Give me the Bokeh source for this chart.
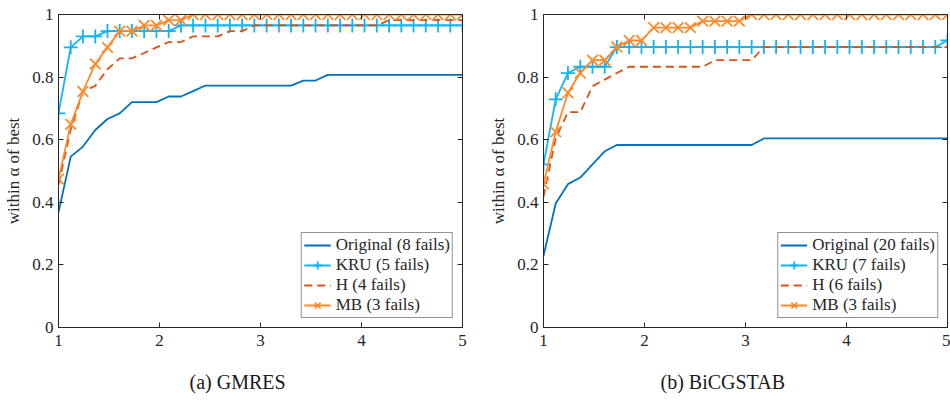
from bokeh.plotting import figure
from bokeh.models import Range1d, FixedTicker, LinearAxis, Legend, LegendItem, Title
from bokeh.layouts import row
from bokeh.embed import file_html
from bokeh.resources import INLINE

# ---------------- data ----------------
alpha = [1.000, 1.121, 1.242, 1.364, 1.485, 1.606, 1.727, 1.848, 1.970, 2.091,
         2.212, 2.333, 2.455, 2.576, 2.697, 2.818, 2.939, 3.061, 3.182, 3.303,
         3.424, 3.545, 3.667, 3.788, 3.909, 4.030, 4.152, 4.273, 4.394, 4.515,
         4.636, 4.758, 4.879, 5.000]

xticks = [1, 2, 3, 4, 5]
xtick_labels = ["1", "2", "3", "4", "5"]
yticks = [0, 0.2, 0.4, 0.6, 0.8, 1]
ytick_labels = ["0", "0.2", "0.4", "0.6", "0.8", "1"]

# (a) GMRES
gmres_original = [0.368, 0.546, 0.578, 0.631, 0.666, 0.684, 0.720, 0.720, 0.720, 0.738,
                  0.738, 0.755, 0.773, 0.773, 0.773, 0.773, 0.773, 0.773, 0.773, 0.773,
                  0.789, 0.789, 0.807, 0.807, 0.807, 0.807, 0.807, 0.807, 0.807, 0.807,
                  0.807, 0.807, 0.807, 0.807]
gmres_kru = [0.684, 0.895, 0.930, 0.930, 0.947, 0.947, 0.947, 0.947, 0.947, 0.947,
             0.965, 0.965, 0.965, 0.965, 0.965, 0.965, 0.965, 0.965, 0.965, 0.965,
             0.965, 0.965, 0.965, 0.965, 0.965, 0.965, 0.965, 0.965, 0.965, 0.965,
             0.965, 0.965, 0.965, 0.965]
gmres_h = [0.456, 0.632, 0.754, 0.772, 0.825, 0.860, 0.860, 0.877, 0.895, 0.912,
           0.912, 0.930, 0.930, 0.930, 0.947, 0.947, 0.965, 0.965, 0.965, 0.965,
           0.965, 0.965, 0.965, 0.965, 0.965, 0.965, 0.965, 0.982, 0.982, 0.982,
           0.982, 0.982, 0.982, 0.982]
gmres_mb = [0.474, 0.649, 0.754, 0.842, 0.895, 0.947, 0.947, 0.965, 0.965, 0.982,
            0.982, 1.000, 1.000, 1.000, 1.000, 1.000, 1.000, 1.000, 1.000, 1.000,
            1.000, 1.000, 1.000, 1.000, 1.000, 1.000, 1.000, 1.000, 1.000, 1.000,
            1.000, 1.000, 1.000, 1.000]
gmres_labels = ["Original (8 fails)", "KRU (5 fails)", "H (4 fails)", "MB (3 fails)"]

# (b) BiCGSTAB
bicg_original = [0.229, 0.396, 0.458, 0.479, 0.521, 0.563, 0.583, 0.583, 0.583, 0.583,
                 0.583, 0.583, 0.583, 0.583, 0.583, 0.583, 0.583, 0.583, 0.604, 0.604,
                 0.604, 0.604, 0.604, 0.604, 0.604, 0.604, 0.604, 0.604, 0.604, 0.604,
                 0.604, 0.604, 0.604, 0.604]
bicg_kru = [0.521, 0.729, 0.813, 0.833, 0.833, 0.833, 0.896, 0.896, 0.896, 0.896,
            0.896, 0.896, 0.896, 0.896, 0.896, 0.896, 0.896, 0.896, 0.896, 0.896,
            0.896, 0.896, 0.896, 0.896, 0.896, 0.896, 0.896, 0.896, 0.896, 0.896,
            0.896, 0.896, 0.896, 0.917]
bicg_h = [0.417, 0.604, 0.688, 0.688, 0.771, 0.792, 0.813, 0.833, 0.833, 0.833,
          0.833, 0.833, 0.833, 0.833, 0.854, 0.854, 0.854, 0.854, 0.896, 0.896,
          0.896, 0.896, 0.896, 0.896, 0.896, 0.896, 0.896, 0.896, 0.896, 0.896,
          0.896, 0.896, 0.896, 0.896]
bicg_mb = [0.458, 0.625, 0.750, 0.813, 0.854, 0.854, 0.896, 0.917, 0.917, 0.958,
           0.958, 0.958, 0.958, 0.979, 0.979, 0.979, 0.979, 1.000, 1.000, 1.000,
           1.000, 1.000, 1.000, 1.000, 1.000, 1.000, 1.000, 1.000, 1.000, 1.000,
           1.000, 1.000, 1.000, 1.000]
bicg_labels = ["Original (20 fails)", "KRU (7 fails)", "H (6 fails)", "MB (3 fails)"]

# ---------------- style ----------------
FONT = "Liberation Serif"
AX = "#262626"
C_ORIG = "#0072BD"
C_KRU = "#12B4F5"
C_H = "#D95319"
C_MB = "#FF8A2A"
LW = 1.8


def style_axis(ax, ticks, labels, show_labels=True, standoff=5):
    ax.ticker = FixedTicker(ticks=ticks)
    ax.major_label_overrides = {t: (l if show_labels else "") for t, l in zip(ticks, labels)}
    ax.minor_tick_line_color = None
    ax.major_tick_in = 5
    ax.major_tick_out = 0
    ax.major_tick_line_color = AX
    ax.axis_line_color = AX
    ax.axis_line_width = 1
    ax.major_label_text_font = FONT
    ax.major_label_text_font_size = "17px"
    ax.major_label_text_color = AX
    ax.major_label_standoff = standoff if show_labels else 0


def panel(orig, kru, h, mb, labels, caption, cap_offset, right_border):
    p = figure(frame_width=404, frame_height=313,
               x_range=Range1d(1, 5), y_range=Range1d(0, 1),
               output_backend="svg", toolbar_location=None,
               min_border_left=58, min_border_right=right_border,
               min_border_top=14, min_border_bottom=72,
               background_fill_color="white", border_fill_color="white")
    p.outline_line_color = AX
    p.outline_line_width = 1
    p.xgrid.visible = False
    p.ygrid.visible = False

    style_axis(p.xaxis[0], xticks, xtick_labels, standoff=7)
    style_axis(p.yaxis[0], yticks, ytick_labels, standoff=5)
    p.yaxis[0].axis_label = "within α of best"
    p.yaxis[0].axis_label_text_font = FONT
    p.yaxis[0].axis_label_text_font_style = "normal"
    p.yaxis[0].axis_label_text_font_size = "17px"
    p.yaxis[0].axis_label_text_color = AX
    p.yaxis[0].axis_label_standoff = 6

    top = LinearAxis()
    style_axis(top, xticks, xtick_labels, show_labels=False)
    p.add_layout(top, "above")
    right = LinearAxis()
    style_axis(right, yticks, ytick_labels, show_labels=False)
    p.add_layout(right, "right")

    r0 = p.line(alpha, orig, line_color=C_ORIG, line_width=LW)
    r1 = p.line(alpha, kru, line_color=C_KRU, line_width=LW)
    s1 = p.scatter(alpha, kru, marker="cross", size=14, line_color=C_KRU, line_width=LW)
    r2 = p.line(alpha, h, line_color=C_H, line_width=LW, line_dash="8 5")
    r3 = p.line(alpha, mb, line_color=C_MB, line_width=LW)
    s3 = p.scatter(alpha, mb, marker="x", size=15, line_color=C_MB, line_width=LW)

    legend = Legend(items=[LegendItem(label=labels[0], renderers=[r0]),
                           LegendItem(label=labels[1], renderers=[r1, s1]),
                           LegendItem(label=labels[2], renderers=[r2]),
                           LegendItem(label=labels[3], renderers=[r3, s3])],
                    location="bottom_right", margin=9, padding=2, spacing=0,
                    glyph_width=27, glyph_height=20, label_height=20,
                    label_standoff=5,
                    label_text_font=FONT, label_text_font_size="17px",
                    label_text_color=AX,
                    border_line_color=AX, border_line_width=1,
                    background_fill_color="white", background_fill_alpha=1)
    p.add_layout(legend)

    cap = Title(text=caption, align="left", offset=cap_offset, standoff=40,
                text_font=FONT, text_font_style="normal", text_font_size="20px",
                text_color="#1a1a1a")
    p.add_layout(cap, "below")
    return p


p1 = panel(gmres_original, gmres_kru, gmres_h, gmres_mb, gmres_labels, "(a) GMRES", 131, 23)
p2 = panel(bicg_original, bicg_kru, bicg_h, bicg_mb, bicg_labels, "(b) BiCGSTAB", 117, 3)

layout = row(p1, p2)
open("out.html", "w").write(file_html(layout, INLINE))
